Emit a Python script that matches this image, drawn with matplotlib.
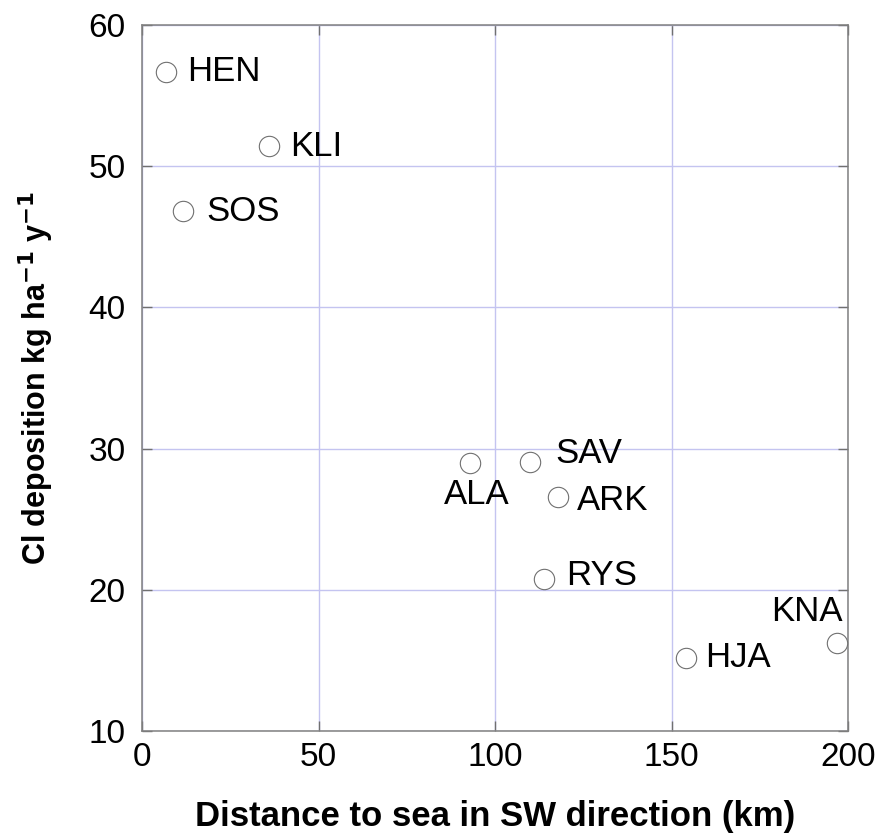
import matplotlib
matplotlib.use("Agg")
import matplotlib.pyplot as plt

# Cl deposition vs distance to sea, per site
sites = ["HEN", "KLI", "SOS", "ALA", "SAV", "ARK", "RYS", "HJA", "KNA"]
distance_km = [6.8, 36.0, 11.6, 92.9, 109.9, 117.8, 113.9, 154.1, 196.9]
cl_dep = [56.7, 51.4, 46.8, 29.0, 29.05, 26.6, 20.8, 15.2, 16.2]

# label placement: (dx, dy) in points, horizontal alignment
label_pos = {
    "HEN": (15, 0, "left"),
    "KLI": (15, 0, "left"),
    "SOS": (17, 0, "left"),
    "ALA": (5, -23, "center"),
    "SAV": (18, 6, "left"),
    "ARK": (14, -3, "left"),
    "RYS": (16, 2, "left"),
    "HJA": (14, 0, "left"),
    "KNA": (4, 23, "right"),
}

plt.rcParams["font.family"] = ["Liberation Sans", "DejaVu Sans"]

fig = plt.figure(figsize=(8.81, 8.39), dpi=100)
ax = fig.add_axes([0.1612, 0.1287, 0.8014, 0.8415])

ax.scatter(distance_km, cl_dep, s=215, facecolors="white",
           edgecolors="#707070", linewidths=0.8, zorder=3)

for name, x, y in zip(sites, distance_km, cl_dep):
    dx, dy, ha = label_pos[name]
    ax.annotate(name, xy=(x, y), xytext=(dx, dy), textcoords="offset points",
                ha=ha, va="center", fontsize=25, zorder=4,
                annotation_clip=False)

ax.set_xlim(0, 200)
ax.set_ylim(10, 60)
ax.set_xticks([0, 50, 100, 150, 200])
ax.set_yticks([10, 20, 30, 40, 50, 60])
ax.grid(True, color="#c4c4f0", linewidth=1.0, zorder=0)
ax.set_axisbelow(True)

for sp in ax.spines.values():
    sp.set_color("#808080")
    sp.set_linewidth(1.1)

ax.tick_params(direction="in", length=7, width=1.0, color="#707070",
               top=True, right=True, labelsize=24)
ax.tick_params(axis="y", pad=12)
ax.tick_params(axis="x", pad=8)

ax.set_xlabel("Distance to sea in SW direction (km)", fontsize=25,
              fontweight="bold", labelpad=19)
ax.set_ylabel(r"Cl deposition kg ha$^{\mathbf{-1}}$ y$^{\mathbf{-1}}$",
              fontsize=22, fontweight="bold", labelpad=23)

fig.savefig("out.png", dpi=100)
